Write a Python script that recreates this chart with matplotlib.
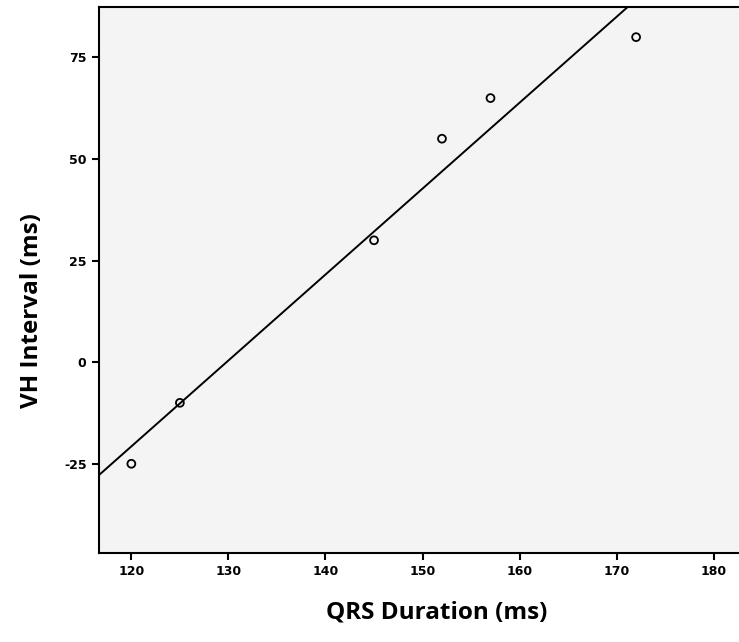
import numpy as np
import matplotlib
matplotlib.use("Agg")
import matplotlib.pyplot as plt

plt.rcParams['axes.unicode_minus'] = False

qrs = [120, 125, 145, 152, 157, 172]
vh = [-25, -10, 30, 55, 65, 80]
xticks = [120, 130, 140, 150, 160, 170, 180]
yticks = [-25, 0, 25, 50, 75]

fig = plt.figure(figsize=(7.39, 6.42), dpi=100)
ax = fig.add_axes([0.134, 0.139, 0.866, 0.85])
ax.set_facecolor('#f4f4f4')

xmin, xmax = 116.67, 182.6
ax.set_xlim(xmin, xmax)
ax.set_ylim(-46.9, 87.4)

# linear fit line across the plot
slope, icpt = np.polyfit(qrs, vh, 1)
xs = np.array([xmin, xmax])
ax.plot(xs, slope * xs + icpt, color='black', lw=1.4, zorder=2)
ax.scatter(qrs, vh, s=32, facecolors='none', edgecolors='black', linewidths=1.3, zorder=3)

ax.set_xticks(xticks)
ax.set_yticks(yticks)
ax.tick_params(direction='out', length=5, width=1.5, labelsize=9, pad=4)
for lbl in ax.get_xticklabels() + ax.get_yticklabels():
    lbl.set_fontfamily('DejaVu Sans')
    lbl.set_fontweight('bold')

for s in ['left', 'bottom', 'top']:
    ax.spines[s].set_linewidth(1.5)
ax.spines['right'].set_visible(False)

ax.set_xlabel('QRS Duration (ms)', fontsize=17.5, fontweight='bold', family='Open Sans', labelpad=16)
ax.set_ylabel('VH Interval (ms)', fontsize=17.5, fontweight='bold', family='Open Sans', labelpad=14)
# labels sit a bit off-centre in the original
ax.xaxis.label.set_x(0.527)
ax.yaxis.label.set_y(0.443)

fig.savefig('out.png', dpi=100)
